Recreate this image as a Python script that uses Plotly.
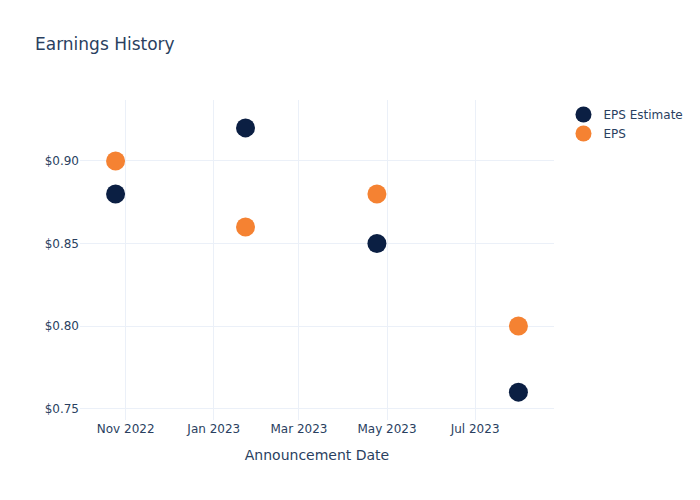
import plotly.graph_objects as go

dates = ["2022-10-25", "2023-01-23", "2023-04-24", "2023-07-31"]
eps_estimate = [0.88, 0.92, 0.85, 0.76]
eps_actual = [0.90, 0.86, 0.88, 0.80]

fig = go.Figure()
fig.add_trace(go.Scatter(x=dates, y=eps_estimate, mode="markers", name="EPS Estimate",
                         marker=dict(color="#0b1f43", size=19)))
fig.add_trace(go.Scatter(x=dates, y=eps_actual, mode="markers", name="EPS",
                         marker=dict(color="#f58232", size=19)))

fig.update_layout(
    template="plotly_white",
    width=700, height=500,
    font=dict(family="DejaVu Sans"),
    title=dict(text="Earnings History"),
    xaxis=dict(title=dict(text="Announcement Date"), tickformat="%b %Y", dtick="M2"),
    yaxis=dict(tickformat="$.2f"),
)
fig.write_html("out.html")
